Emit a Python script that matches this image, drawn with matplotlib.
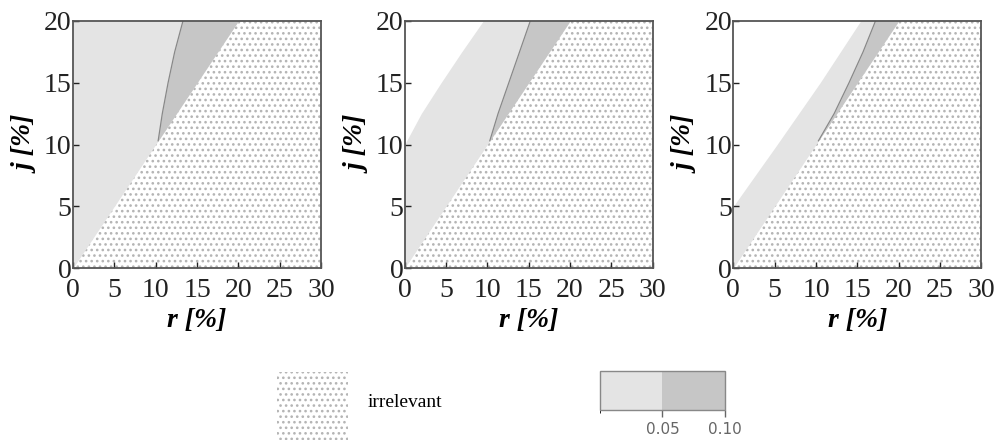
import matplotlib
matplotlib.use('Agg')
import matplotlib.pyplot as plt
from matplotlib.colors import ListedColormap, BoundaryNorm
from matplotlib.cm import ScalarMappable

plt.rcParams['font.family'] = 'serif'
plt.rcParams['font.serif'] = ['Liberation Serif', 'DejaVu Serif']
plt.rcParams['hatch.linewidth'] = 1.1

# irrelevant region lies below j = r (capped at j = 20)
irr_r = [0, 20, 30]
irr_j = [0, 20, 20]

# left edge of the light (0.05) region for each panel, as r over j
light_j = [[0, 20],
           [0, 10, 12.5, 15, 17.5, 20],
           [0, 5, 10, 15, 20]]
light_r = [[0, 0],
           [0, 0, 2.0, 4.4, 6.9, 9.5],
           [0, 0, 5.3, 10.5, 15.4]]

# left edge of the dark (0.10) region for each panel
dark_j = [10.3, 12.5, 15, 17.5, 20]
dark_r = [[10.3, 10.8, 11.5, 12.3, 13.3],
          [10.3, 11.3, 12.6, 13.9, 15.2],
          [10.3, 12.2, 14.0, 15.7, 17.2]]

cb_levels = [0, 0.05, 0.10]
cb_ticks = [0.05, 0.10]

light_col = '#e4e4e4'
dark_col = '#c6c6c6'
dot_col = '#b4b4b4'
spine_col = '#555555'

fig = plt.figure(figsize=(9.95, 4.43), dpi=100)
lefts = [0.0734, 0.4067, 0.737]

for k in range(3):
    ax = fig.add_axes([lefts[k], 0.395, 0.2492, 0.5576])
    ax.fill_between(irr_r, irr_j, 0, facecolor='white', edgecolor=dot_col,
                    hatch='...', linewidth=0)
    ax.fill_betweenx(light_j[k], light_r[k], light_j[k], color=light_col, linewidth=0)
    ax.fill_betweenx(dark_j, dark_r[k], dark_j, color=dark_col, linewidth=0)
    ax.plot(dark_r[k], dark_j, color='#888888', linewidth=0.9)
    ax.set_xlim(0, 30)
    ax.set_ylim(0, 20)
    ax.set_xticks(range(0, 31, 5))
    ax.set_yticks(range(0, 21, 5))
    ax.tick_params(direction='in', length=4, width=1, colors='#222222',
                   labelsize=20)
    ax.tick_params(axis='x', pad=7)
    ax.tick_params(axis='y', pad=1)
    for s in ax.spines.values():
        s.set_color(spine_col)
        s.set_linewidth(1.3)
    ax.set_xlabel('r [%]', fontsize=20, fontweight='bold', style='italic', labelpad=4)
    ax.set_ylabel('j [%]', fontsize=20, fontweight='bold', style='italic', labelpad=3)

# legend: dotted square + text
lax = fig.add_axes([0.2784, 0.0068, 0.0714, 0.1535])
lax.fill_between([0, 1], [1, 1], 0, facecolor='white', edgecolor=dot_col,
                 hatch='...', linewidth=0)
lax.set_xlim(0, 1)
lax.set_ylim(0, 1)
lax.axis('off')
fig.text(0.369, 0.092, 'irrelevant', fontsize=14, va='center', ha='left')

# colorbar
cax = fig.add_axes([0.603, 0.0745, 0.1256, 0.088])
cmap = ListedColormap([light_col, dark_col])
norm = BoundaryNorm(cb_levels, cmap.N)
cb = fig.colorbar(ScalarMappable(norm=norm, cmap=cmap), cax=cax,
                  orientation='horizontal', ticks=cb_ticks)
cb.ax.set_xticklabels(['0.05', '0.10'])
cb.outline.set_edgecolor('#888888')
cb.outline.set_linewidth(1)
cb.ax.tick_params(length=5, width=1, colors='#666666', labelsize=11, pad=4)
for t in cb.ax.get_xticklabels():
    t.set_fontfamily('DejaVu Sans')

fig.savefig('out.png', dpi=100)
